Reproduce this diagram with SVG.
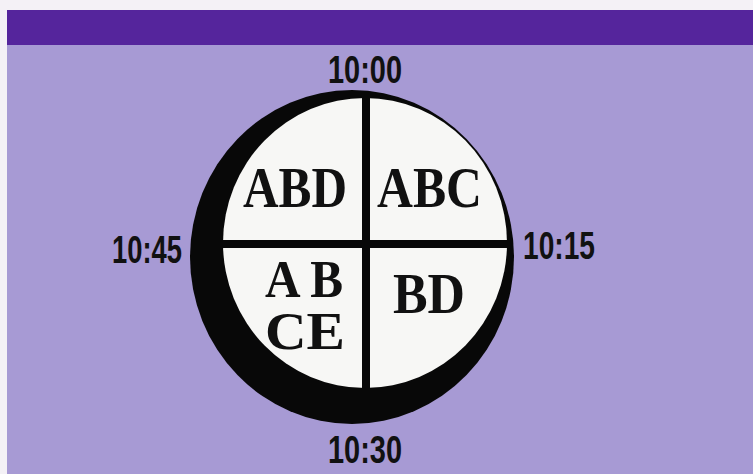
<svg xmlns="http://www.w3.org/2000/svg" width="753" height="474" viewBox="0 0 753 474">
<style>
.time{font-family:"Liberation Sans",Arial,sans-serif;font-weight:bold;font-size:38px;fill:#111;}
.cell{font-family:"Liberation Serif","Times New Roman",serif;font-weight:bold;font-size:56px;fill:#111;}
.stack{font-size:53px;}
</style>
<rect x="0" y="0" width="753" height="474" fill="#f4f1f6"/>
<rect x="7" y="44" width="746" height="430" fill="#a79ad4"/>
<rect x="7" y="10" width="746" height="35" fill="#55259c"/>
<g id="clock">
<ellipse cx="352" cy="257" rx="162" ry="167" fill="#080808"/>
<ellipse cx="365" cy="243" rx="142" ry="145" fill="#f7f7f5"/>
</g>
<g id="connectors">
<line x1="366" y1="92" x2="366" y2="392" stroke="#080808" stroke-width="8"/>
<line x1="222" y1="244" x2="508" y2="244" stroke="#080808" stroke-width="8"/>
</g>
<g id="q-abd"><text class="cell" x="243" y="207" textLength="104" lengthAdjust="spacingAndGlyphs">ABD</text></g>
<g id="q-abc"><text class="cell" x="377" y="207" textLength="105" lengthAdjust="spacingAndGlyphs">ABC</text></g>
<g id="q-bd"><text class="cell" x="393" y="313" textLength="72" lengthAdjust="spacingAndGlyphs">BD</text></g>
<g id="q-abce">
<text class="cell stack" x="265" y="297" textLength="78" lengthAdjust="spacingAndGlyphs">A B</text>
<text class="cell stack" x="265" y="349" textLength="80" lengthAdjust="spacingAndGlyphs">CE</text>
</g>
<g id="t1000"><text class="time" x="328" y="83" textLength="74" lengthAdjust="spacingAndGlyphs">10:00</text></g>
<g id="t1015"><text class="time" x="523" y="259" textLength="72" lengthAdjust="spacingAndGlyphs">10:15</text></g>
<g id="t1030"><text class="time" x="328" y="463" textLength="74" lengthAdjust="spacingAndGlyphs">10:30</text></g>
<g id="t1045"><text class="time" x="112" y="263" textLength="70" lengthAdjust="spacingAndGlyphs">10:45</text></g>
</svg>
